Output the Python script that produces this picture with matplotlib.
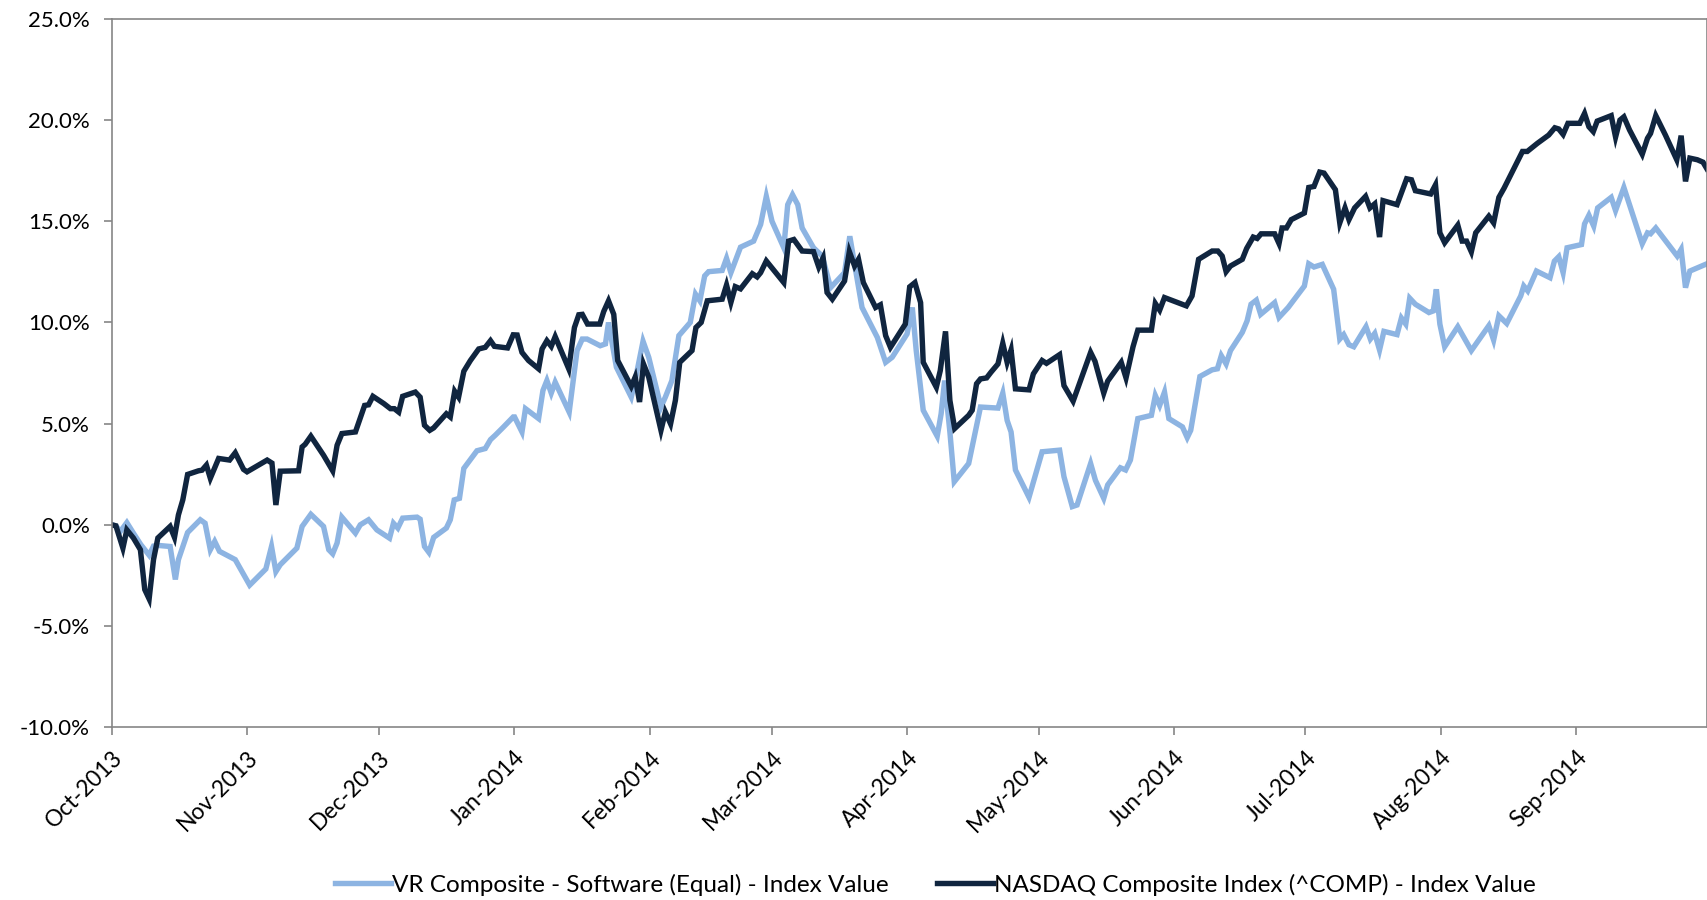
import matplotlib
matplotlib.use("Agg")
import matplotlib.pyplot as plt
import matplotlib.dates as mdates
import matplotlib.ticker as mticker
import pandas as pd

start = pd.Timestamp("2013-10-01")
end = pd.Timestamp("2014-09-30 22:00")

# NASDAQ Composite: (days since 2013-10-01, % change)
ndx_days = [0, 0.9, 2.5, 3.4, 4.9, 6.5, 7.5, 8.5, 9.5, 10.5, 13.3, 14.3, 15.2, 16.2, 17.3, 19.8, 20.6, 21.6,
            22.5, 24.4, 26.9, 28.2, 30.1, 30.9, 35.5, 36.6, 37.5, 38.5, 42.7, 43.5, 44.2, 45.5, 48.4, 50.5,
            51.5, 52.6, 55.7, 57.8, 58.7, 59.7, 62.2, 63.7, 64.6, 65.6, 66.5, 69.4, 70.5, 71.5, 72.7, 73.6,
            76.5, 77.4, 78.4, 79.3, 80.5, 82.0, 83.9, 85.4, 86.6, 87.5, 90.5, 91.8, 92.7, 93.8, 95.3, 97.6,
            98.4, 99.5, 100.5, 101.4, 104.5, 105.8, 106.8, 107.6, 108.8, 111.6, 112.5, 113.6, 114.8, 115.7,
            118.8, 119.7, 120.7, 121.6, 122.8, 125.6, 126.6, 127.8, 128.9, 129.9, 132.7, 133.6, 134.8, 136.2,
            139.6, 140.6, 141.6, 142.6, 143.8, 146.5, 147.6, 148.4, 149.7, 153.7, 154.8, 156.0, 157.9, 160.5,
            161.7, 162.7, 163.6, 164.8, 167.6, 168.7, 169.9, 170.8, 171.9, 174.7, 175.8, 177.0, 178.1, 181.5,
            182.5, 183.7, 185.0, 185.6, 188.6, 189.5, 190.7, 191.7, 192.8, 196.0, 196.8, 197.8, 198.7, 200.1,
            201.1, 202.7, 203.8, 204.8, 205.7, 206.7, 209.8, 210.8, 212.8, 213.8, 216.8, 217.8, 219.9, 223.9,
            224.9, 226.9, 227.8, 230.9, 232.0, 233.6, 234.7, 237.8, 238.7, 239.7, 240.8, 245.8, 247.1, 248.6,
            251.7, 253.0, 254.0, 254.9, 255.9, 258.6, 259.6, 261.1, 262.0, 262.9, 266.0, 267.0, 267.7, 268.7,
            269.8, 272.8, 273.8, 275.0, 276.3, 277.3, 279.9, 280.9, 282.1, 283.0, 284.3, 286.8, 287.8, 288.9,
            290.0, 290.8, 294.0, 296.2, 297.3, 298.2, 301.7, 302.8, 303.8, 304.9, 307.9, 308.9, 309.9, 311.0,
            312.0, 315.0, 316.1, 317.3, 318.5, 322.7, 323.8, 326.1, 328.7, 330.1, 331.0, 332.0, 333.1, 335.8,
            336.9, 337.9, 338.9, 339.8, 343.0, 344.0, 345.0, 345.9, 347.2, 350.1, 351.3, 352.0, 353.2, 355.4,
            358.0, 359.0, 360.0, 361.0, 362.7, 364.0, 364.9]
ndx_vals = [0.00, -0.05, -1.15, -0.25, -0.65, -1.23, -3.20, -3.66, -1.72, -0.65, -0.08, -0.62, 0.49, 1.23, 2.49,
            2.67, 2.70, 2.95, 2.30, 3.28, 3.20, 3.56, 2.74, 2.62, 3.20, 3.05, 0.98, 2.65, 2.67, 3.85, 3.98, 4.38,
            3.44, 2.67, 3.93, 4.51, 4.59, 5.90, 5.93, 6.35, 5.99, 5.74, 5.74, 5.57, 6.35, 6.56, 6.31, 4.92, 4.67,
            4.79, 5.49, 5.33, 6.60, 6.31, 7.59, 8.12, 8.69, 8.77, 9.10, 8.82, 8.74, 9.39, 9.38, 8.52, 8.12, 7.71,
            8.69, 9.10, 8.82, 9.30, 7.71, 9.75, 10.38, 10.40, 9.92, 9.92, 10.54, 11.07, 10.40, 8.12, 6.84, 7.30,
            6.07, 7.95, 7.30, 4.67, 5.57, 4.99, 6.15, 8.03, 8.61, 9.75, 10.00, 11.07, 11.15, 11.85, 10.99, 11.77,
            11.66, 12.41, 12.25, 12.46, 13.04, 11.97, 14.02, 14.10, 13.53, 13.50, 12.74, 13.20, 11.48, 11.15,
            12.05, 13.50, 12.79, 13.12, 11.97, 10.74, 10.87, 9.35, 8.77, 9.92, 11.76, 11.97, 10.98, 8.03, 6.80,
            7.62, 9.56, 6.15, 4.76, 5.41, 5.66, 6.97, 7.21, 7.26, 7.54, 7.95, 8.97, 8.03, 8.64, 6.72, 6.67, 7.46,
            8.12, 7.98, 8.41, 6.88, 6.11, 8.52, 8.08, 6.51, 7.10, 8.03, 7.26, 8.80, 9.62, 9.62, 10.94, 10.61,
            11.23, 10.82, 11.31, 13.12, 13.53, 13.53, 13.28, 12.51, 12.79, 13.12, 13.66, 14.22, 14.15, 14.38,
            14.38, 13.90, 14.67, 14.67, 15.08, 15.41, 16.67, 16.72, 17.43, 17.38, 16.56, 14.92, 15.66, 15.08,
            15.66, 16.23, 15.66, 15.86, 14.22, 16.02, 15.82, 17.10, 17.05, 16.51, 16.35, 16.80, 14.43, 13.94,
            14.81, 14.02, 14.02, 13.49, 14.43, 15.25, 14.92, 16.18, 16.64, 18.45, 18.45, 18.85, 19.26, 19.62,
            19.56, 19.29, 19.84, 19.84, 20.33, 19.67, 19.43, 19.95, 20.22, 19.16, 20.00, 20.16, 19.51, 18.31,
            19.10, 19.34, 20.22, 19.26, 18.04, 19.23, 16.97, 18.12, 18.04, 17.92, 17.59]

# VR Composite - Software (Equal)
vr_days = [0, 0.9, 1.9, 3.4, 4.9, 6.6, 8.5, 9.5, 10.7, 13.3, 14.5, 15.2, 17.3, 20.2, 21.3, 22.5, 23.5, 24.6,
           28.2, 31.5, 35.2, 36.5, 37.5, 38.5, 42.3, 43.5, 45.5, 48.4, 49.6, 50.5, 51.5, 52.6, 55.7, 56.8, 58.7,
           60.6, 63.5, 64.4, 65.4, 66.5, 69.8, 70.5, 71.5, 72.5, 73.6, 76.5, 77.4, 78.3, 79.5, 80.5, 83.5, 85.4,
           86.6, 87.7, 89.6, 91.8, 92.1, 93.8, 94.6, 97.6, 98.6, 99.5, 100.5, 101.4, 104.6, 106.4, 107.6, 108.7,
           111.7, 112.9, 113.6, 115.4, 118.8, 119.7, 121.5, 122.8, 125.6, 126.6, 128.1, 129.7, 132.3, 133.5,
           134.5, 135.6, 136.5, 139.6, 140.6, 141.6, 143.8, 146.8, 148.4, 149.7, 151.0, 153.7, 154.6, 155.7,
           156.9, 157.9, 160.5, 162.5, 164.4, 167.6, 168.8, 171.6, 175.1, 177.0, 178.5, 181.9, 183.1, 184.0,
           185.6, 188.8, 189.7, 190.5, 191.7, 192.7, 196.0, 198.7, 202.7, 203.8, 204.8, 205.7, 206.7, 209.8,
           212.8, 216.8, 217.8, 219.7, 220.8, 223.9, 225.0, 226.9, 227.8, 230.7, 231.9, 233.0, 234.7, 237.8,
           238.7, 239.7, 240.8, 241.8, 244.9, 246.0, 246.8, 248.9, 251.7, 252.9, 253.8, 254.9, 255.9, 258.6,
           259.7, 260.6, 261.8, 262.8, 266.0, 267.0, 269.1, 272.8, 273.8, 275.0, 276.9, 279.5, 280.9, 281.8,
           283.0, 284.1, 286.9, 287.9, 288.9, 290.0, 291.0, 294.0, 295.0, 296.0, 296.9, 298.2, 301.3, 302.3,
           303.0, 303.8, 304.9, 307.9, 311.0, 315.0, 316.1, 317.3, 319.1, 322.3, 323.0, 323.9, 325.9, 329.0,
           330.0, 331.0, 332.0, 332.9, 336.2, 336.9, 337.9, 339.0, 339.9, 343.0, 344.0, 345.9, 350.1, 351.3,
           352.0, 353.2, 358.1, 359.0, 360.0, 361.0, 364.9]
vr_vals = [0.00, -0.05, -0.33, 0.11, -0.41, -0.98, -1.50, -1.05, -1.02, -1.07, -2.70, -1.72, -0.38, 0.25, 0.08,
           -1.23, -0.82, -1.31, -1.72, -2.98, -2.18, -1.07, -2.31, -1.97, -1.15, -0.08, 0.52, -0.08, -1.23, -1.43,
           -0.90, 0.38, -0.41, 0.00, 0.25, -0.25, -0.66, 0.08, -0.16, 0.33, 0.38, 0.28, -1.07, -1.36, -0.62,
           -0.16, 0.25, 1.23, 1.31, 2.79, 3.66, 3.77, 4.21, 4.43, 4.84, 5.33, 5.33, 4.59, 5.74, 5.25, 6.64,
           7.13, 6.51, 7.05, 5.57, 8.61, 9.18, 9.18, 8.85, 8.94, 10.00, 7.79, 6.31, 7.13, 9.07, 8.28, 5.82,
           6.31, 7.13, 9.35, 10.00, 11.40, 11.07, 12.30, 12.51, 12.57, 13.17, 12.46, 13.72, 14.02, 14.84,
           16.23, 15.00, 13.69, 15.82, 16.31, 15.82, 14.67, 13.69, 13.28, 11.72, 12.46, 14.26, 10.74, 9.26,
           8.03, 8.28, 9.43, 10.74, 8.61, 5.66, 4.38, 5.49, 7.13, 4.59, 2.13, 3.03, 5.82, 5.77, 6.51, 5.16,
           4.59, 2.71, 1.36, 3.61, 3.69, 2.38, 0.90, 0.98, 3.03, 2.20, 1.31, 1.97, 2.82, 2.71, 3.20, 5.25,
           5.41, 6.39, 5.90, 6.56, 5.25, 4.84, 4.31, 4.67, 7.33, 7.66, 7.71, 8.36, 7.95, 8.61, 9.51, 10.08,
           10.90, 11.10, 10.40, 10.98, 10.25, 10.74, 11.80, 12.90, 12.74, 12.87, 11.64, 9.18, 9.40, 8.90,
           8.80, 9.79, 9.18, 9.46, 8.64, 9.56, 9.40, 10.22, 9.92, 11.20, 10.90, 10.49, 10.57, 11.64, 9.92,
           8.80, 9.79, 8.61, 9.84, 9.13, 10.33, 9.95, 11.31, 11.80, 11.56, 12.54, 12.21, 13.03, 13.25, 12.46,
           13.69, 13.85, 14.87, 15.30, 14.76, 15.66, 16.18, 15.53, 16.67, 13.89, 14.43, 14.38, 14.67, 13.28,
           13.61, 11.72, 12.54, 12.90]

vr_label = "VR Composite - Software (Equal) - Index Value"
ndx_label = "NASDAQ Composite Index (^COMP) - Index Value"
vr_color = "#8DB4E2"
ndx_color = "#10253F"

plt.rcParams["font.family"] = ["Lato", "DejaVu Sans"]

fig = plt.figure(figsize=(17.07, 9.0), dpi=100)
ax = fig.add_axes([0.0656, 0.192, 0.9344, 0.787])

vr_x = start + pd.to_timedelta(vr_days, unit="D")
ndx_x = start + pd.to_timedelta(ndx_days, unit="D")

ax.plot(vr_x, vr_vals, color=vr_color, lw=3.9, label=vr_label, solid_joinstyle="miter")
ax.plot(ndx_x, ndx_vals, color=ndx_color, lw=3.9, label=ndx_label, solid_joinstyle="miter")

ax.set_xlim(start, end)
ax.set_ylim(-10, 25)
ax.yaxis.set_major_locator(mticker.MultipleLocator(5))
ax.yaxis.set_major_formatter(mticker.FuncFormatter(lambda v, p: f"{v:.1f}%"))

ax.xaxis.set_major_locator(mdates.MonthLocator())
ax.xaxis.set_major_formatter(mdates.DateFormatter("%b-%Y"))
for lbl in ax.get_xticklabels():
    lbl.set_rotation(45)
    lbl.set_ha("right")
    lbl.set_rotation_mode("anchor")

ax.tick_params(axis="both", direction="out", length=6, width=1.2, color="#868686",
               labelcolor="black")
ax.tick_params(axis="y", pad=10, labelsize=16)
ax.tick_params(axis="x", pad=8, labelsize=16.5)

for side in ["left", "bottom", "top", "right"]:
    ax.spines[side].set_color("#868686")
    ax.spines[side].set_linewidth(1.2)

fig.legend(loc="center", bbox_to_anchor=(0.548, 0.017), ncol=2, frameon=False,
           fontsize=17.5, handlelength=2.3, handletextpad=0.05, columnspacing=2.0)

fig.savefig("out.png", dpi=100)
